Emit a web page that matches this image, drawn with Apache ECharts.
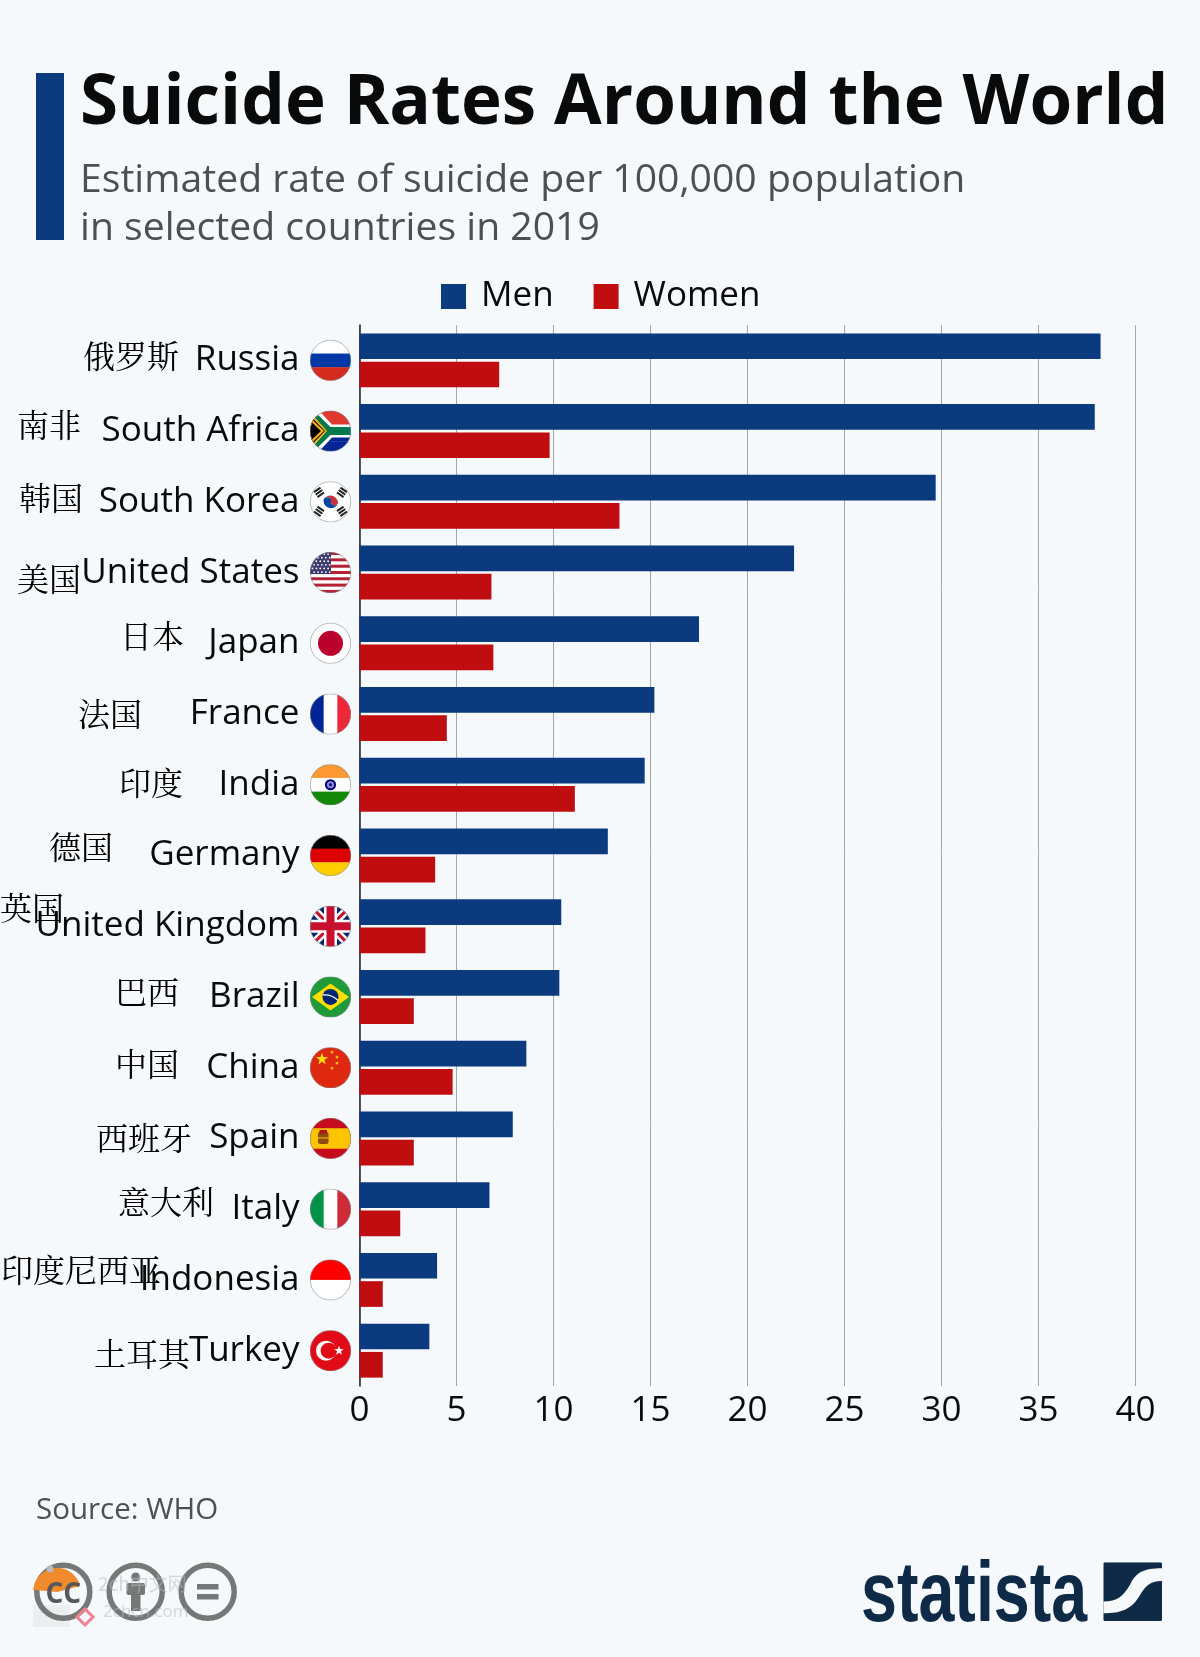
<!DOCTYPE html>
<html>
<head>
<meta charset="utf-8">
<title>Suicide Rates Around the World</title>
<script src="https://cdn.jsdelivr.net/npm/echarts@6/dist/echarts.min.js"></script>
<style>
  html, body { margin: 0; padding: 0; background: #f5f9fc; }
  #main { width: 1200px; height: 1657px; }
</style>
</head>
<body>
<div id="main"></div>
<script>
// data
var categories = ['Russia', 'South Africa', 'South Korea', 'United States', 'Japan', 'France', 'India', 'Germany',
  'United Kingdom', 'Brazil', 'China', 'Spain', 'Italy', 'Indonesia', 'Turkey'];
var chineseNames = ['俄罗斯', '南非', '韩国', '美国', '日本', '法国', '印度', '德国',
  '英国', '巴西', '中国', '西班牙', '意大利', '印度尼西亚', '土耳其'];
var menValues = [38.2, 37.9, 29.7, 22.4, 17.5, 15.2, 14.7, 12.8, 10.4, 10.3, 8.6, 7.9, 6.7, 4.0, 3.6];
var womenValues = [7.2, 9.8, 13.4, 6.8, 6.9, 4.5, 11.1, 3.9, 3.4, 2.8, 4.8, 2.8, 2.1, 1.2, 1.2];

// the chinese captions are pasted by hand in the original: left edge, and shift from the row centre
var captionLeft = [83, 17, 19, 17, 120, 78, 119, 49, 0, 115, 115, 96, 118, 1, 94];
var captionShift = [-5, -6, -4, 6, -7, 0, -2, -9, -18, -5, -4, -1, -7, -10, 3];

var BLUE = '#0b3a7f', RED = '#bf0d10', BG = '#f5f9fc', INK = '#0a0a0a', GREY = '#4b5053', CC = '#757877', NAVY = '#0f2a47';
var FONT = '"Open Sans", "Noto Sans", sans-serif';
var CJK = '"Noto Serif CJK SC", "Noto Sans CJK SC", serif';

function stripes(cols) { // vertical stripes
  var w = 41 / cols.length;
  return cols.map(function (c, i) { return '<rect x="' + i * w + '" y="0" width="' + (w + .3) + '" height="41" fill="' + c + '"/>'; }).join('');
}
function bands(cols) { // horizontal bands
  var h = 41 / cols.length;
  return cols.map(function (c, i) { return '<rect x="0" y="' + i * h + '" width="41" height="' + (h + .3) + '" fill="' + c + '"/>'; }).join('');
}
function star(cx, cy, r, fill) {
  var p = [];
  for (var i = 0; i < 10; i++) {
    var a = -Math.PI / 2 + i * Math.PI / 5, q = i % 2 ? r * .4 : r;
    p.push((cx + q * Math.cos(a)).toFixed(1) + ',' + (cy + q * Math.sin(a)).toFixed(1));
  }
  return '<polygon points="' + p.join(' ') + '" fill="' + fill + '"/>';
}
function usFlag() {
  var s = '', i, j;
  for (i = 0; i < 13; i++) s += '<rect x="0" y="' + i * 41 / 13 + '" width="41" height="3.2" fill="' + (i % 2 ? '#fff' : '#b22234') + '"/>';
  s += '<rect x="0" y="0" width="21" height="22" fill="#3c3b6e"/>';
  for (i = 0; i < 6; i++) for (j = 0; j < 5; j++) s += '<circle cx="' + (2.5 + j * 3.9 + (i % 2) * 1.6) + '" cy="' + (2 + i * 3.6) + '" r=".9" fill="#fff"/>';
  return s;
}
function trigram(x, y, rot) {
  return '<g transform="translate(' + x + ' ' + y + ') rotate(' + rot + ')" fill="#222">' +
    '<rect x="-4" y="-4" width="8" height="2"/><rect x="-4" y="-1" width="8" height="2"/><rect x="-4" y="2" width="8" height="2"/></g>';
}
var flagShapes = {
  'Russia': bands(['#fff', '#0039a6', '#d52b1e']),
  'South Africa': bands(['#de3831', '#de3831', '#002395', '#002395']) +
    '<path d="M0 0L20 20.5L0 41Z" fill="#ffb612"/><path d="M0 5L15 20.5L0 36Z" fill="#000"/>' +
    '<path d="M0 0L9 0L22 14L41 14L41 27L22 27L9 41L0 41L18 20.5Z" fill="#fff"/>' +
    '<path d="M0 1.5L5 1.5L20.5 16.5L41 16.5L41 24.5L20.5 24.5L5 39.5L0 39.5L17 20.5Z" fill="#007a4d"/>' +
    '<path d="M0 7L14 20.5L0 34Z" fill="#ffb612"/><path d="M0 10L11 20.5L0 31Z" fill="#000"/>',
  'South Korea': '<rect width="41" height="41" fill="#fff"/>' +
    '<path d="M13.5 19A7.5 7.5 0 0 1 28 22A3.7 3.7 0 0 1 21 20.5A3.7 3.7 0 0 0 13.5 19Z" fill="#cd2e3a"/>' +
    '<path d="M13.5 19A3.7 3.7 0 0 1 21 20.5A3.7 3.7 0 0 0 28 22A7.5 7.5 0 0 1 13.5 19Z" fill="#0047a0"/>' +
    trigram(9, 11, -35) + trigram(32, 11, 35) + trigram(9, 30, 35) + trigram(32, 30, -35),
  'United States': usFlag(),
  'Japan': '<rect width="41" height="41" fill="#fff"/><circle cx="20.5" cy="20.5" r="12.5" fill="#bc002d"/>',
  'France': stripes(['#002395', '#fff', '#ed2939']),
  'India': bands(['#ff9933', '#fff', '#138808']) + '<circle cx="20.5" cy="20.5" r="5.6" fill="#000080"/><circle cx="20.5" cy="20.5" r="3.6" fill="#8d8dc9"/><circle cx="20.5" cy="20.5" r="1.4" fill="#000080"/>',
  'Germany': bands(['#000', '#dd0000', '#ffce00']),
  'United Kingdom': '<rect width="41" height="41" fill="#012169"/>' +
    '<path d="M0 0L41 41M41 0L0 41" stroke="#fff" stroke-width="8"/><path d="M0 0L41 41M41 0L0 41" stroke="#c8102e" stroke-width="3"/>' +
    '<path d="M20.5 0V41M0 20.5H41" stroke="#fff" stroke-width="13"/><path d="M20.5 0V41M0 20.5H41" stroke="#c8102e" stroke-width="8"/>',
  'Brazil': '<rect width="41" height="41" fill="#1f9a39"/><path d="M2 20.5L20.5 7L39 20.5L20.5 34Z" fill="#fedf00"/><circle cx="20.5" cy="20.5" r="8" fill="#002776"/><path d="M12.8 18.5C18 18 24 20 28 24" stroke="#fff" stroke-width="1.2" fill="none"/>',
  'China': '<rect width="41" height="41" fill="#de2910"/>' + star(12, 12, 6.4, '#ffde00') + star(22, 5, 2, '#ffde00') + star(27, 10, 2, '#ffde00') + star(27, 16, 2, '#ffde00') + star(22, 21, 2, '#ffde00'),
  'Spain': '<rect width="41" height="41" fill="#c60b1e"/><rect y="10.3" width="41" height="20.5" fill="#ffc400"/>' +
    '<rect x="8" y="14" width="10.5" height="12" rx="2" fill="#8e4b12"/><rect x="9.5" y="12" width="7.5" height="3.5" fill="#ad1519"/><path d="M8 20H18.5" stroke="#ffc400"/>',
  'Italy': stripes(['#009246', '#fff', '#ce2b37']),
  'Indonesia': bands(['#ff0000', '#fff']),
  'Turkey': '<rect width="41" height="41" fill="#e30a17"/><circle cx="16" cy="20.5" r="10" fill="#fff"/><circle cx="18.6" cy="20.5" r="8" fill="#e30a17"/>' + star(29, 20.5, 5, '#fff')
};
function svgUri(svg) {
  return 'data:image/svg+xml;charset=utf-8,' + encodeURIComponent(svg);
}
function flagUri(name) {
  return svgUri('<svg xmlns="http://www.w3.org/2000/svg" width="164" height="164" viewBox="0 0 41 41">' +
    '<defs><clipPath id="c"><circle cx="20.5" cy="20.5" r="20.5"/></clipPath></defs>' +
    '<g clip-path="url(#c)">' + flagShapes[name] + '</g>' +
    '<circle cx="20.5" cy="20.5" r="20.2" fill="none" stroke="#8a8a8a" stroke-width=".6"/></svg>');
}
var logoMark = svgUri('<svg xmlns="http://www.w3.org/2000/svg" width="234" height="234" viewBox="0 0 58.7 58.7">' +
  '<rect width="58.7" height="58.7" rx="1.5" fill="' + NAVY + '"/>' +
  '<path d="M0 39.3C14 39.3 20 34 27 22C33 10 40 6 58.7 6L58.7 18.7C46 18.7 42 24 36 34C28 47 18 51 0 51Z" fill="' + BG + '"/></svg>');

var rowIndex = categories.map(function (c, i) { return [0, i]; });

var chart = echarts.init(document.getElementById('main'));
chart.setOption({
  animation: false,
  backgroundColor: BG,
  textStyle: { fontFamily: FONT },
  title: [
    { text: 'Suicide Rates Around the World', left: 80, top: 59, padding: 0, textStyle: { fontFamily: FONT, fontSize: 69.1, fontWeight: 700, color: INK, lineHeight: 90 } },
    { text: 'Estimated rate of suicide per 100,000 population\nin selected countries in 2019', left: 80, top: 157, padding: 0, textStyle: { fontFamily: FONT, fontSize: 39.15, fontWeight: 400, color: GREY, lineHeight: 48 } }
  ],
  legend: {
    data: ['Men', 'Women'], left: 436, top: 274, itemWidth: 25, itemHeight: 25, itemGap: 40, icon: 'rect',
    textStyle: { fontFamily: FONT, fontSize: 35, color: INK, padding: [0, 0, 0, 10] }
  },
  grid: { left: 359.5, right: 64.5, top: 325, bottom: 271 },
  xAxis: {
    type: 'value', min: 0, max: 40, interval: 5,
    axisLine: { show: false }, axisTick: { show: false },
    axisLabel: { fontFamily: FONT, fontSize: 35, color: INK, margin: 8 },
    splitLine: { show: true, lineStyle: { color: '#a3a7aa', width: 1 } }
  },
  yAxis: {
    type: 'category', inverse: true, data: categories,
    axisLine: { show: true, lineStyle: { color: '#222', width: 1.5 } }, axisTick: { show: false },
    axisLabel: { fontFamily: FONT, fontSize: 35, color: INK, margin: 60 }
  },
  series: [
    { name: 'Men', type: 'bar', data: menValues, barWidth: 25.7, barGap: '10%', itemStyle: { color: BLUE } },
    { name: 'Women', type: 'bar', data: womenValues, barWidth: 25.7, barGap: '10%', itemStyle: { color: RED } },
    {
      name: 'flags', type: 'custom', silent: true, data: rowIndex, z: 5,
      renderItem: function (params, api) {
        var p = api.coord([0, api.value(1)]);
        return {
          type: 'image',
          style: { image: flagUri(categories[params.dataIndex]), x: p[0] - 49.5, y: p[1] - 20.5, width: 41, height: 41 }
        };
      }
    },
    {
      name: 'captions', type: 'custom', silent: true, data: rowIndex, z: 6,
      renderItem: function (params, api) {
        var p = api.coord([0, api.value(1)]), i = params.dataIndex;
        return {
          type: 'text',
          style: { text: chineseNames[i], x: captionLeft[i], y: p[1] + captionShift[i], font: '400 32px ' + CJK, fill: '#000', textAlign: 'left', textVerticalAlign: 'middle' }
        };
      }
    }
  ],
  graphic: [
    { type: 'rect', shape: { x: 36, y: 73, width: 28, height: 167 }, style: { fill: BLUE } },
    { type: 'text', x: 36, y: 1496, style: { text: 'Source: WHO', font: '400 29.5px ' + FONT, fill: GREY } },
    // cc badges, with the pasted hat and stamp of the original
    { type: 'rect', shape: { x: 33, y: 1605, width: 37, height: 22 }, style: { fill: '#eceef0' } },
    { type: 'circle', shape: { cx: 63.3, cy: 1591.7, r: 26.5 }, style: { fill: 'none', stroke: CC, lineWidth: 5.5 } },
    { type: 'circle', shape: { cx: 135.7, cy: 1591.7, r: 26.5 }, style: { fill: 'none', stroke: CC, lineWidth: 5.5 } },
    { type: 'circle', shape: { cx: 207.7, cy: 1591.7, r: 26.5 }, style: { fill: 'none', stroke: CC, lineWidth: 5.5 } },
    { type: 'sector', shape: { cx: 57, cy: 1592, r: 24, r0: 0, startAngle: Math.PI * 1.03, endAngle: Math.PI * 1.92 }, style: { fill: '#f08a2c' } },
    { type: 'circle', shape: { cx: 50, cy: 1569, r: 3.5 }, style: { fill: '#b9b9b9' } },
    { type: 'text', x: 45.5, y: 1581, style: { text: 'CC', font: '700 28px ' + FONT, fill: '#55585a' } },
    { type: 'polygon', shape: { points: [[85, 1609], [93, 1617], [85, 1625], [77, 1617]] }, style: { fill: 'none', stroke: '#ee8090', lineWidth: 3 } },
    { type: 'circle', shape: { cx: 135.7, cy: 1577, r: 4.5 }, style: { fill: CC } },
    { type: 'rect', shape: { x: 126.5, y: 1583, width: 18.5, height: 12, r: 2 }, style: { fill: CC } },
    { type: 'rect', shape: { x: 131, y: 1590, width: 9.5, height: 21 }, style: { fill: CC } },
    { type: 'rect', shape: { x: 197, y: 1584, width: 21.5, height: 5.5 }, style: { fill: CC } },
    { type: 'rect', shape: { x: 197, y: 1594, width: 21.5, height: 5.5 }, style: { fill: CC } },
    { type: 'text', x: 98, y: 1574, style: { text: '2ch中文网', font: '400 19px "Noto Sans CJK SC"', fill: 'rgba(180,185,190,0.55)' } },
    { type: 'text', x: 103, y: 1604, style: { text: '2chcn.com', font: '400 17px ' + FONT, fill: 'rgba(180,185,190,0.55)' } },
    // statista logo
    { type: 'text', x: 861, y: 1555, scaleX: 0.885, scaleY: 1.17, style: { text: 'statista', font: '700 73px "Liberation Sans Narrow", "Liberation Sans"', fill: NAVY } },
    { type: 'image', style: { image: logoMark, x: 1103.3, y: 1562.3, width: 58.7, height: 58.7 } }
  ]
});

window.onresize = function () {
  chart.resize();
};
</script>
</body>
</html>
